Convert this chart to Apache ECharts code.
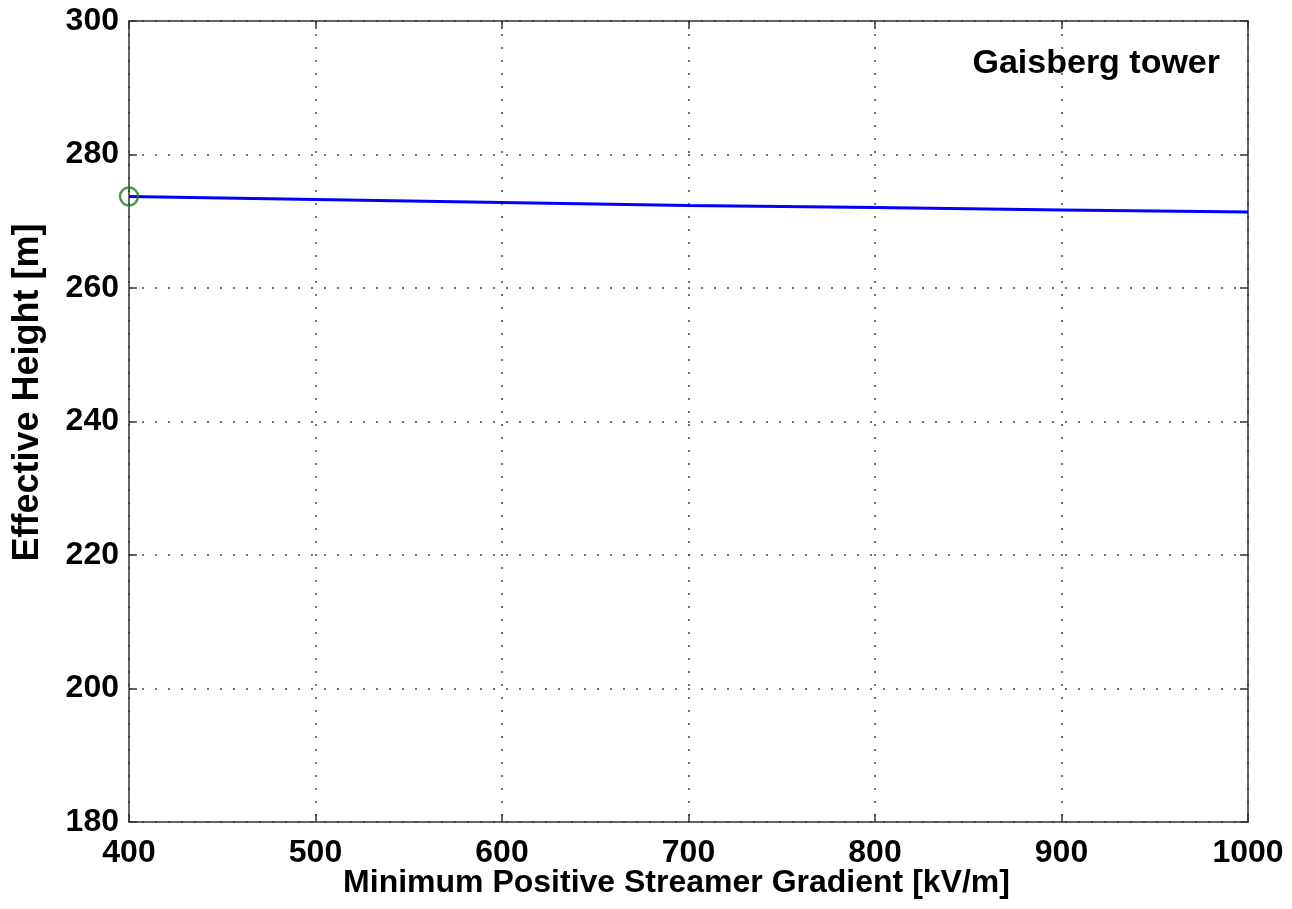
<!DOCTYPE html>
<html>
<head>
<meta charset="utf-8">
<script src="https://cdn.jsdelivr.net/npm/echarts@6/dist/echarts.min.js"></script>
<style>html,body{margin:0;padding:0;background:#fff}#c{width:1292px;height:909px}</style>
</head>
<body>
<div id="c"></div>
<script>
const gradient = [400, 500, 600, 700, 800, 900, 1000];
const effHeight = [273.7, 273.25, 272.8, 272.35, 272.05, 271.7, 271.4];
const startPoint = [[400, 273.7]];
const xTicks = [400, 500, 600, 700, 800, 900, 1000];
const yTicks = [180, 200, 220, 240, 260, 280, 300];
const annotation = 'Gaisberg tower';

const FONT = '"Liberation Sans", Arial, Helvetica, sans-serif';
const axisLine = { show: true, lineStyle: { color: '#333', width: 1.5 } };
const tick = { show: true, inside: true, length: 8, lineStyle: { color: '#333', width: 1.5 } };
const dotted = { show: true, lineStyle: { color: '#444', width: 1.5, type: [2, 11] } };
const plain = v => String(v);

const chart = echarts.init(document.getElementById('c'), null, { renderer: 'canvas' });
chart.setOption({
  animation: false,
  backgroundColor: '#fff',
  grid: { left: 129, right: 44, top: 21, bottom: 87, containLabel: false, outerBoundsMode: 'none' },
  xAxis: [{
    type: 'value', min: xTicks[0], max: xTicks[xTicks.length - 1], interval: 100,
    position: 'bottom',
    name: 'Minimum Positive Streamer Gradient [kV/m]',
    nameLocation: 'middle', nameGap: 45, nameMoveOverlap: false,
    nameTextStyle: { fontFamily: FONT, fontWeight: 'bold', fontSize: 32, color: '#000', padding: [0, 24, 0, 0] },
    axisLine, axisTick: tick, splitLine: dotted,
    axisLabel: { fontFamily: FONT, fontWeight: 'bold', fontSize: 32, color: '#000', margin: 15, formatter: plain }
  }, {
    type: 'value', min: xTicks[0], max: xTicks[xTicks.length - 1], interval: 100,
    position: 'top', axisLine, axisTick: tick, splitLine: { show: false }, axisLabel: { show: false }
  }],
  yAxis: [{
    type: 'value', min: yTicks[0], max: yTicks[yTicks.length - 1], interval: 20,
    position: 'left',
    name: 'Effective Height [m]',
    nameLocation: 'middle', nameGap: 83, nameRotate: 90, nameMoveOverlap: false,
    nameTextStyle: { fontFamily: FONT, fontWeight: 'bold', fontSize: 36, color: '#000', padding: [0, 0, 0, 58] },
    axisLine, axisTick: tick, splitLine: dotted,
    axisLabel: { fontFamily: FONT, fontWeight: 'bold', fontSize: 32, color: '#000', margin: 10, formatter: plain }
  }, {
    type: 'value', min: yTicks[0], max: yTicks[yTicks.length - 1], interval: 20,
    position: 'right', axisLine, axisTick: tick, splitLine: { show: false }, axisLabel: { show: false }
  }],
  series: [{
    type: 'line',
    data: gradient.map((g, i) => [g, effHeight[i]]),
    showSymbol: false, smooth: false,
    lineStyle: { color: '#0000ff', width: 3 },
    z: 3
  }, {
    type: 'scatter',
    data: startPoint,
    symbol: 'circle', symbolSize: 18,
    itemStyle: { color: 'rgba(0,0,0,0)', borderColor: '#1f7f1f', borderWidth: 2.5 },
    z: 4
  }],
  graphic: [{
    type: 'text', right: 72, top: 47,
    style: { text: annotation, fontFamily: FONT, fontWeight: 'bold', fontSize: 34, fill: '#000' }
  }]
});
</script>
</body>
</html>
